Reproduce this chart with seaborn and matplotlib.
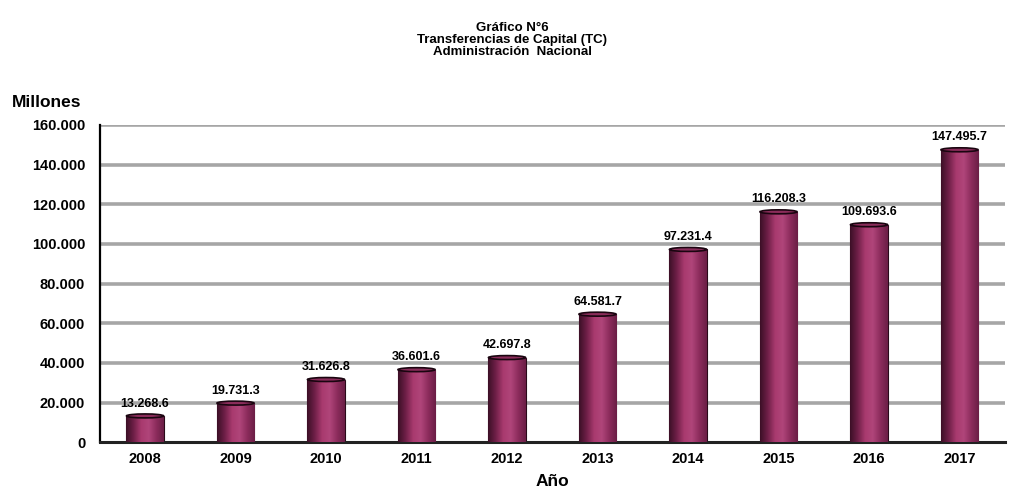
import numpy as np
import pandas as pd
import seaborn as sns
import matplotlib.pyplot as plt
from matplotlib.patches import Ellipse
from matplotlib.colors import LinearSegmentedColormap
from matplotlib.ticker import FuncFormatter

years = ["2008", "2009", "2010", "2011", "2012", "2013", "2014", "2015", "2016", "2017"]
valores = [13268.6, 19731.3, 31626.8, 36601.6, 42697.8, 64581.7, 97231.4, 116208.3, 109693.6, 147495.7]
etiquetas = ["13.268.6", "19.731.3", "31.626.8", "36.601.6", "42.697.8",
             "64.581.7", "97.231.4", "116.208.3", "109.693.6", "147.495.7"]

sns.set_theme(style="white")
plt.rcParams["font.family"] = ["Liberation Sans", "DejaVu Sans"]
plt.rcParams["text.color"] = "black"
plt.rcParams["xtick.color"] = "black"
plt.rcParams["ytick.color"] = "black"
plt.rcParams["axes.labelcolor"] = "black"

df = pd.DataFrame({"anio": years, "valor": valores})

fig = plt.figure(figsize=(10.18, 4.98), dpi=100)
ax = fig.add_axes([0.098, 0.112, 0.889, 0.637])

# lineas de fondo
for v in range(20000, 160001, 20000):
    ax.axhline(v, color="#a6a6a6", lw=2.6, zorder=0)

sns.barplot(data=df, x="anio", y="valor", color="#8e2a5c", width=0.41,
            saturation=1, ax=ax, zorder=2)

# sombreado tipo cilindro
cmap = LinearSegmentedColormap.from_list(
    "cil", ["#3b0f26", "#6e1f47", "#a83a6e", "#b0457a", "#8c2c5c", "#6a1e45"])
grad = np.linspace(0, 1, 256).reshape(1, -1)
for p in ax.patches:
    x0, w, h = p.get_x(), p.get_width(), p.get_height()
    im = ax.imshow(grad, cmap=cmap, aspect="auto", extent=[x0, x0 + w, 0, h],
                   zorder=3)
    im.set_clip_path(p)
    p.set_edgecolor("#2a0a1a")
    p.set_linewidth(0.8)
    top = Ellipse((x0 + w / 2, h), w, 2000, facecolor="#8a2c5a",
                  edgecolor="#1a0510", lw=1.2, zorder=4)
    ax.add_patch(top)
    bot = Ellipse((x0 + w / 2, 0), w, 2000, facecolor="#555555",
                  edgecolor="#333333", lw=1, zorder=1.5)
    ax.add_patch(bot)

for i, (v, t) in enumerate(zip(valores, etiquetas)):
    ax.text(i, v + 3200, t, ha="center", va="bottom", fontsize=9,
            fontweight="bold", color="black", zorder=5)

ax.set_xlim(-0.5, len(years) - 0.5)
ax.set_ylim(0, 160000)
ax.set_yticks(range(0, 160001, 20000))
ax.yaxis.set_major_formatter(FuncFormatter(lambda v, _: f"{int(v):,}".replace(",", ".")))
ax.set_xticks(np.arange(0.5, len(years) - 0.5), minor=True)
ax.tick_params(axis="x", which="major", length=0, pad=7, labelsize=10.5)
ax.tick_params(axis="x", which="minor", length=6, width=1.2, color="black",
               direction="inout")
ax.tick_params(axis="y", length=5, width=1.2, color="black", direction="inout",
               labelsize=10.5, pad=8)
for lbl in ax.get_xticklabels() + ax.get_yticklabels():
    lbl.set_fontweight("bold")

for s in ["top", "right"]:
    ax.spines[s].set_visible(False)
ax.spines["left"].set_color("black")
ax.spines["left"].set_linewidth(1.6)
ax.spines["bottom"].set_color("#222222")
ax.spines["bottom"].set_linewidth(2.2)

ax.set_xlabel("Año", fontsize=12.5, fontweight="bold", labelpad=6)
ax.set_ylabel("")
fig.text(0.012, 0.795, "Millones", fontsize=12.5, fontweight="bold", ha="left", va="center")

fig.text(0.503, 0.955, "Gráfico N°6\nTransferencias de Capital (TC)\nAdministración  Nacional",
         ha="center", va="top", fontsize=9.5, fontweight="bold", linespacing=1.0)

fig.savefig("out.png", dpi=100)
